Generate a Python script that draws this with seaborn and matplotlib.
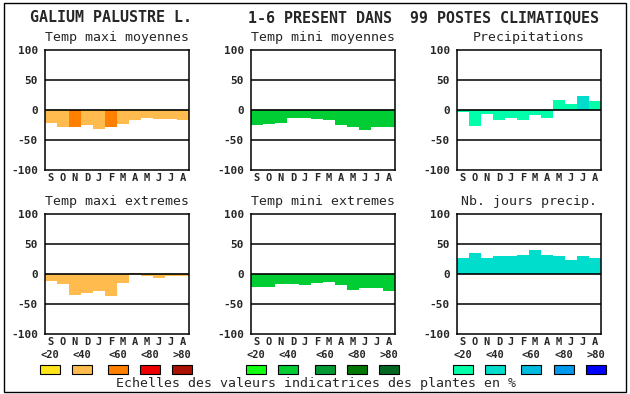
import matplotlib
matplotlib.use("Agg")
import matplotlib.pyplot as plt
import seaborn as sns
import pandas as pd
from matplotlib.patches import Rectangle

sns.set_style("white")
plt.rcParams["font.family"] = ["DejaVu Sans Mono", "DejaVu Sans"]

months = ["S", "O", "N", "D", "J", "F", "M", "A", "M", "J", "J", "A"]
scale_labels = ["<20", "<40", "<60", "<80", ">80"]

orange_scale = ["#FFE41A", "#FFBB4D", "#FF8000", "#EE0000", "#AA1100"]
green_scale = ["#11FF11", "#00CC33", "#009933", "#007700", "#006622"]
blue_scale = ["#00FFAA", "#00DDCC", "#00BBDD", "#0099EE", "#0000FF"]

titles = ["Temp maxi moyennes", "Temp mini moyennes", "Precipitations",
          "Temp maxi extremes", "Temp mini extremes", "Nb. jours precip."]

tmax_moy = [-21, -28, -28, -25, -32, -28, -23, -17, -13, -15, -15, -17]
tmax_moy_cls = [1, 1, 2, 1, 1, 2, 1, 1, 1, 1, 1, 1]
tmin_moy = [-25, -23, -22, -13, -13, -15, -17, -25, -28, -33, -28, -28]
tmin_moy_cls = [1] * 12
precip = [-3, -27, -7, -17, -13, -17, -8, -13, 17, 10, 23, 15]
precip_cls = [0, 0, 0, 0, 0, 0, 0, 0, 0, 0, 1, 0]
tmax_ext = [-12, -17, -35, -32, -28, -37, -15, 2, -3, -7, -3, -3]
tmax_ext_cls = [1] * 12
tmin_ext = [-22, -22, -17, -17, -18, -15, -13, -18, -27, -23, -23, -28]
tmin_ext_cls = [1] * 12
jours = [27, 35, 27, 30, 30, 32, 40, 32, 30, 23, 30, 27]
jours_cls = [1] * 12

panels = [
    (tmax_moy, tmax_moy_cls, orange_scale),
    (tmin_moy, tmin_moy_cls, green_scale),
    (precip, precip_cls, blue_scale),
    (tmax_ext, tmax_ext_cls, orange_scale),
    (tmin_ext, tmin_ext_cls, green_scale),
    (jours, jours_cls, blue_scale),
]

W, H = 630, 394
fig = plt.figure(figsize=(W / 100, H / 100), dpi=100)
fig.patch.set_facecolor("white")

def fx(px):
    return px / W

def fy(py):
    return 1 - py / H

lefts = [45, 251, 457]
tops = [50, 214]
aw, ah = 144, 120

for i, (vals, cls, scale) in enumerate(panels):
    r, c = divmod(i, 3)
    l, t = lefts[c], tops[r]
    ax = fig.add_axes([fx(l), fy(t + ah), aw / W, ah / H])
    df = pd.DataFrame({"pos": [f"b{k}" for k in range(12)], "val": vals})
    pal = {f"b{k}": scale[cls[k]] for k in range(12)}
    sns.barplot(data=df, x="pos", y="val", hue="pos", palette=pal, width=1.0,
                legend=False, ax=ax, saturation=1, errorbar=None,
                linewidth=0, edgecolor="none")
    ax.set_xlim(-0.5, 11.5)
    ax.set_ylim(-100, 100)
    for yv in (50, 0, -50):
        ax.axhline(yv, color="black", lw=1.2 if yv == 0 else 1.1, zorder=5)
    for s in ax.spines.values():
        s.set_color("black")
        s.set_linewidth(1.1)
        s.set_visible(True)
    ax.set_yticks([100, 50, 0, -50, -100])
    ax.set_yticklabels(["100", "50", "0", "-50", "-100"], fontsize=8,
                       fontweight="bold")
    ax.set_xticks(range(12))
    ax.set_xticklabels(months, fontsize=7.5, fontweight="bold")
    ax.tick_params(axis="y", length=0, pad=5)
    ax.tick_params(axis="x", length=0, pad=2)
    ax.set_xlabel("")
    ax.set_ylabel("")
    fig.text(fx(l + aw / 2), fy(t - 12), titles[i], ha="center", va="center",
             fontsize=9.5)

# main title
fig.text(fx(30), fy(18), "GALIUM PALUSTRE L.", ha="left", va="center",
         fontsize=10.8, fontweight="bold")
fig.text(fx(599), fy(18), "1-6 PRESENT DANS  99 POSTES CLIMATIQUES",
         ha="right", va="center", fontsize=10.8, fontweight="bold")

# legend scales
centers = [[50, 82, 118, 150, 182], [256, 288, 325, 357, 389],
           [463, 495, 531, 564, 596]]
for scale, cxs in zip([orange_scale, green_scale, blue_scale], centers):
    for col, lab, cx in zip(scale, scale_labels, cxs):
        fig.text(fx(cx), fy(355), lab, ha="center", va="center",
                 fontsize=7.5, fontweight="bold")
        fig.patches.append(Rectangle((fx(cx - 10), fy(374)), 20 / W, 9 / H,
                                     transform=fig.transFigure,
                                     facecolor=col, edgecolor="black",
                                     linewidth=0.8))

fig.text(fx(316), fy(383), "Echelles des valeurs indicatrices des plantes en %",
         ha="center", va="center", fontsize=9.5)

# outer frame
fig.patches.append(Rectangle((fx(4), fy(392)), 622 / W, 389 / H,
                             transform=fig.transFigure, fill=False,
                             edgecolor="black", linewidth=1.0))

fig.savefig("out.png", dpi=100)
